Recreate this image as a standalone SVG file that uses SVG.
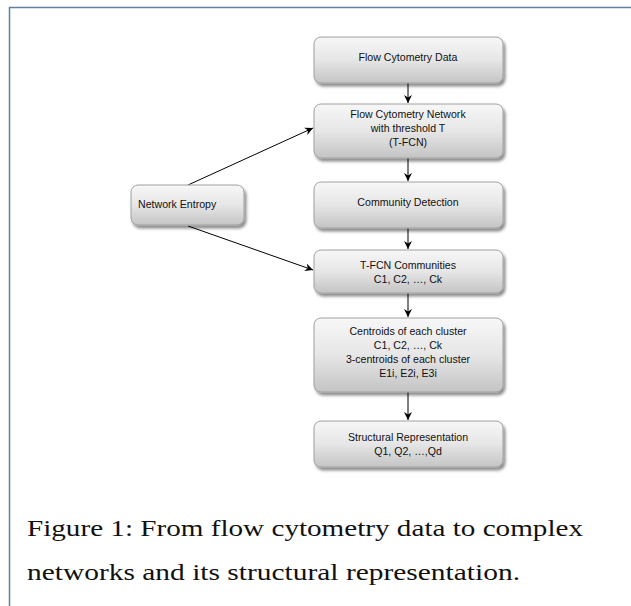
<svg xmlns="http://www.w3.org/2000/svg" width="631" height="606" viewBox="0 0 631 606">
<defs>
<linearGradient id="g" x1="0" y1="0" x2="0" y2="1">
<stop offset="0" stop-color="#f7f7f7"/>
<stop offset="0.5" stop-color="#e6e6e6"/>
<stop offset="1" stop-color="#c4c4c4"/>
</linearGradient>
<filter id="sh" x="-10%" y="-10%" width="130%" height="140%">
<feGaussianBlur in="SourceAlpha" stdDeviation="1.5"/>
<feOffset dx="1.5" dy="2.5" result="b"/>
<feComponentTransfer><feFuncA type="linear" slope="0.45"/></feComponentTransfer>
<feMerge><feMergeNode/><feMergeNode in="SourceGraphic"/></feMerge>
</filter>
<marker id="ah" viewBox="0 0 10 10" refX="10" refY="5" markerWidth="8" markerHeight="8" markerUnits="userSpaceOnUse" orient="auto">
<path d="M0,0 L10,5 L0,10 L3,5 z" fill="#000"/>
</marker>
</defs>
<style>
.box{fill:url(#g);stroke:#a0a0a0;stroke-width:1;filter:url(#sh)}
.t{font-family:"Liberation Sans",Arial,sans-serif;font-size:10.6px;fill:#111;text-anchor:middle}
.cap{font-family:"Liberation Serif","Times New Roman",serif;font-size:24px;fill:#111}
.c{stroke:#000;stroke-width:1;fill:none;marker-end:url(#ah)}
</style>
<rect width="631" height="606" fill="#fff"/>
<path d="M9.5,606 V7.5 H631" fill="none" stroke="#5f7fa3" stroke-width="1.5"/>

<g id="connectors">
<line class="c" x1="408" y1="83" x2="408" y2="103"/>
<line class="c" x1="408" y1="158" x2="408" y2="181"/>
<line class="c" x1="408" y1="228" x2="408" y2="249"/>
<line class="c" x1="408" y1="293" x2="408" y2="317"/>
<line class="c" x1="408" y1="392" x2="408" y2="420"/>
<line class="c" x1="188" y1="185" x2="313" y2="128"/>
<line class="c" x1="188" y1="226" x2="313" y2="270"/>
</g>

<g id="n1"><rect class="box" x="314" y="37" width="189" height="46" rx="7"/>
<text class="t" x="408" y="61">Flow Cytometry Data</text></g>

<g id="n2"><rect class="box" x="314" y="104" width="189" height="54" rx="7"/>
<text class="t" x="408" y="118">Flow Cytometry Network</text>
<text class="t" x="408" y="132">with threshold T</text>
<text class="t" x="408" y="146">(T-FCN)</text></g>

<g id="n3"><rect class="box" x="314" y="182" width="189" height="46" rx="7"/>
<text class="t" x="408" y="206">Community Detection</text></g>

<g id="n4"><rect class="box" x="314" y="250" width="189" height="43" rx="7"/>
<text class="t" x="408" y="269">T-FCN Communities</text>
<text class="t" x="408" y="283">C1, C2, …, Ck</text></g>

<g id="n5"><rect class="box" x="314" y="318" width="189" height="74" rx="7"/>
<text class="t" x="408" y="335">Centroids of each cluster</text>
<text class="t" x="408" y="349">C1, C2, …, Ck</text>
<text class="t" x="408" y="363">3-centroids of each cluster</text>
<text class="t" x="408" y="377">E1i, E2i, E3i</text></g>

<g id="n6"><rect class="box" x="314" y="421" width="189" height="46" rx="7"/>
<text class="t" x="408" y="441">Structural Representation</text>
<text class="t" x="408" y="455">Q1, Q2, …,Qd</text></g>

<g id="n7"><rect class="box" x="131" y="185" width="113" height="40" rx="7"/>
<text class="t" x="138" y="208" style="text-anchor:start">Network Entropy</text></g>

<text class="cap" x="27" y="536" textLength="556" lengthAdjust="spacingAndGlyphs">Figure 1: From flow cytometry data to complex</text>
<text class="cap" x="27" y="580" textLength="493" lengthAdjust="spacingAndGlyphs">networks and its structural representation.</text>
</svg>
